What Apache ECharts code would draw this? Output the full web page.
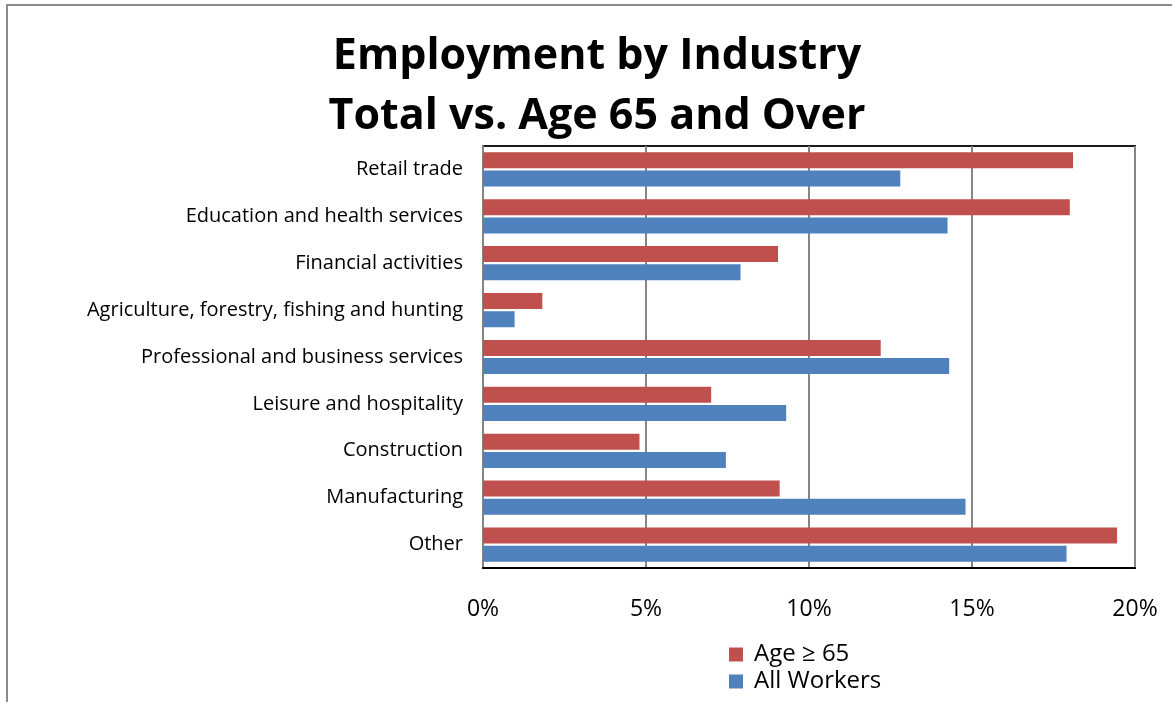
<!DOCTYPE html>
<html>
<head>
<meta charset="utf-8">
<script src="https://cdn.jsdelivr.net/npm/echarts@6/dist/echarts.min.js"></script>
<style>
  html, body { margin: 0; padding: 0; background: #fff; }
  #chart { width: 1172px; height: 702px; }
</style>
</head>
<body>
<div id="chart"></div>
<script>
// Industries, listed top to bottom
const industries = [
  'Retail trade',
  'Education and health services',
  'Financial activities',
  'Agriculture, forestry, fishing and hunting',
  'Professional and business services',
  'Leisure and hospitality',
  'Construction',
  'Manufacturing',
  'Other'
];
// Share of employment (%) for workers aged 65 and over
const age65Plus = [18.1, 18.0, 9.05, 1.82, 12.2, 7.0, 4.8, 9.1, 19.45];
// Share of employment (%) for all workers
const allWorkers = [12.8, 14.25, 7.9, 0.97, 14.3, 9.3, 7.45, 14.8, 17.9];
// Value-axis ticks (%)
const xTicks = [0, 5, 10, 15, 20];

const chart = echarts.init(document.getElementById('chart'));
const font = '"Open Sans", Lato, sans-serif';

chart.setOption({
  backgroundColor: '#fff',
  animation: false,
  title: {
    text: 'Employment by Industry\nTotal vs. Age 65 and Over',
    left: 592,
    textAlign: 'center',
    top: 22,
    textStyle: {
      fontFamily: font,
      fontWeight: 'bold',
      fontSize: 43,
      lineHeight: 60,
      color: '#000'
    }
  },
  legend: {
    orient: 'vertical',
    left: 729,
    top: 642,
    bottom: 0,
    padding: 0,
    itemWidth: 14,
    itemHeight: 14,
    itemGap: 2,
    icon: 'rect',
    textStyle: { fontFamily: font, fontSize: 24, lineHeight: 25, color: '#000', padding: [0, 0, 0, 6] },
    data: ['Age \u2265 65', 'All Workers']
  },
  grid: {
    left: 483,
    right: 37,
    top: 146,
    bottom: 134,
    show: true,
    borderColor: '#1a1a1a',
    borderWidth: 2,
    containLabel: false
  },
  xAxis: {
    type: 'value',
    min: xTicks[0],
    max: xTicks[xTicks.length - 1],
    interval: 5,
    axisLine: { show: true, lineStyle: { color: '#000', width: 2 } },
    axisTick: { show: false },
    splitLine: { show: true, lineStyle: { color: '#868686', width: 2 } },
    axisLabel: {
      margin: 30,
      fontFamily: font,
      fontSize: 23,
      color: '#000',
      formatter: v => v + '%'
    }
  },
  yAxis: {
    type: 'category',
    inverse: true,
    data: industries,
    axisLine: { show: true, lineStyle: { color: '#868686', width: 2 } },
    axisTick: { show: false },
    axisLabel: {
      margin: 20,
      fontFamily: font,
      fontSize: 20,
      color: '#000',
      padding: [6, 0, 0, 0]
    }
  },
  series: [
    {
      name: 'Age \u2265 65',
      type: 'bar',
      data: age65Plus,
      barWidth: 16,
      barGap: '14%',
      itemStyle: { color: '#C0504D' }
    },
    {
      name: 'All Workers',
      type: 'bar',
      data: allWorkers,
      barWidth: 16,
      barGap: '14%',
      itemStyle: { color: '#4F81BD' }
    }
  ],
  graphic: [
    {
      type: 'polyline',
      shape: { points: [[7, 702], [7, 5], [1172, 5]] },
      style: { stroke: '#8c8c8c', lineWidth: 2, fill: null },
      silent: true
    }
  ]
});
</script>
</body>
</html>
